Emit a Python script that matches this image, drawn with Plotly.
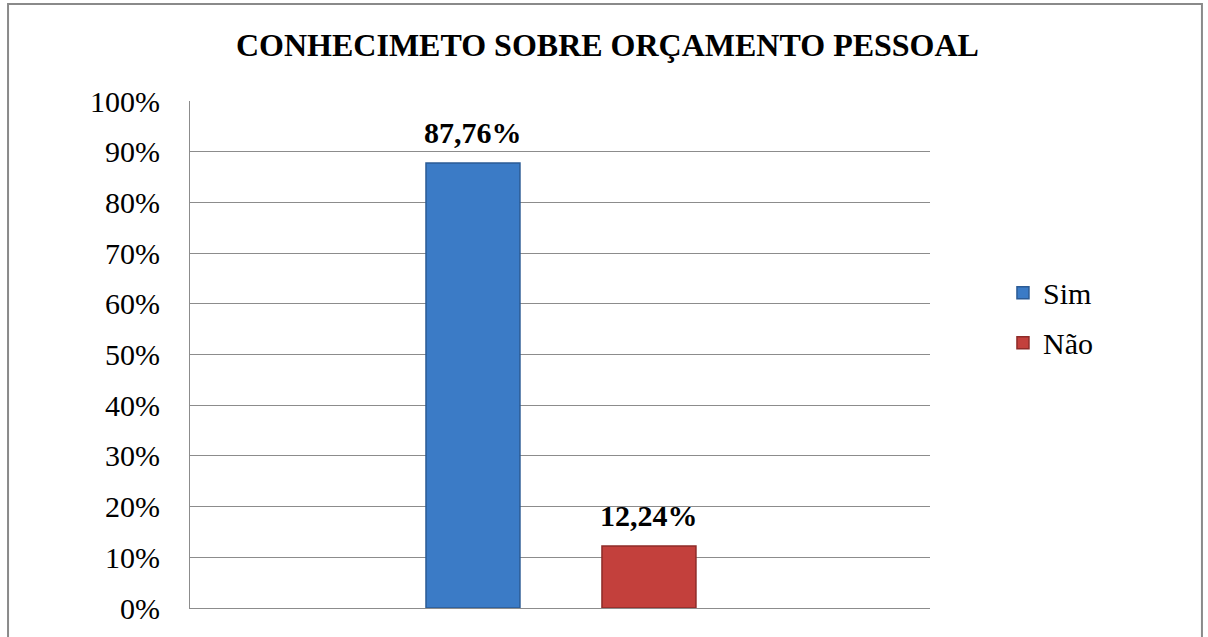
import plotly.graph_objects as go

# ---- data ----
series = ["Sim", "Não"]
values = [0.8776, 0.1224]
fill_colors = ["#3B7BC6", "#C3403C"]
line_colors = ["#2B5B95", "#8E2B28"]
title_text = "CONHECIMETO SOBRE ORÇAMENTO PESSOAL"
y_ticks = [i / 10 for i in range(11)]

FONT = "Liberation Serif, Times New Roman, serif"

fig = go.Figure()
for name, v, fc, lc in zip(series, values, fill_colors, line_colors):
    fig.add_trace(go.Bar(
        x=[name], y=[v], name=name, legendgroup=name,
        marker=dict(color=fc, line=dict(color=lc, width=1.5)),
        hoverinfo="skip",
    ))
    fig.add_annotation(
        x=name, y=v, xref="x", yref="y", yanchor="bottom",
        text="<b>" + f"{v*100:.2f}".replace(".", ",") + "%</b>",
        showarrow=False, yshift=12,
        font=dict(family=FONT, size=30, color="black"),
    )

# chart frame
fig.add_shape(type="rect", xref="paper", yref="paper",
              x0=-0.2459, x1=1.3675, y0=-0.2, y1=1.1913,
              line=dict(color="#8A8A8A", width=2), fillcolor="rgba(0,0,0,0)",
              layer="below")

fig.add_annotation(
    xref="paper", yref="paper", x=0.564, y=1.11, yanchor="middle",
    text="<b>" + title_text + "</b>", showarrow=False,
    font=dict(family=FONT, size=32, color="black"),
)

fig.update_layout(
    width=1208, height=637,
    margin=dict(l=190, r=278, t=101, b=29),
    paper_bgcolor="white", plot_bgcolor="white",
    barmode="overlay", bargap=0.466,
    separators=",.",
    font=dict(family=FONT, size=30, color="black"),
    showlegend=True,
    legend=dict(x=1.0986, xanchor="left", y=0.673, yanchor="top",
                font=dict(family=FONT, size=30, color="black"),
                tracegroupgap=8, bgcolor="rgba(0,0,0,0)"),
    xaxis=dict(type="category", range=[-1.608, 2.597], showticklabels=False,
               showgrid=False, zeroline=False, showline=True,
               linecolor="#8C8C8C", linewidth=1, ticks=""),
    yaxis=dict(range=[0, 1], tickvals=y_ticks, tickformat=".0%",
               showgrid=True, gridcolor="#8C8C8C", gridwidth=1,
               zeroline=False, showline=True, linecolor="#8C8C8C", linewidth=1,
               ticks="", ticklabelstandoff=23,
               tickfont=dict(family=FONT, size=30, color="black")),
)

fig.write_html("out.html")
